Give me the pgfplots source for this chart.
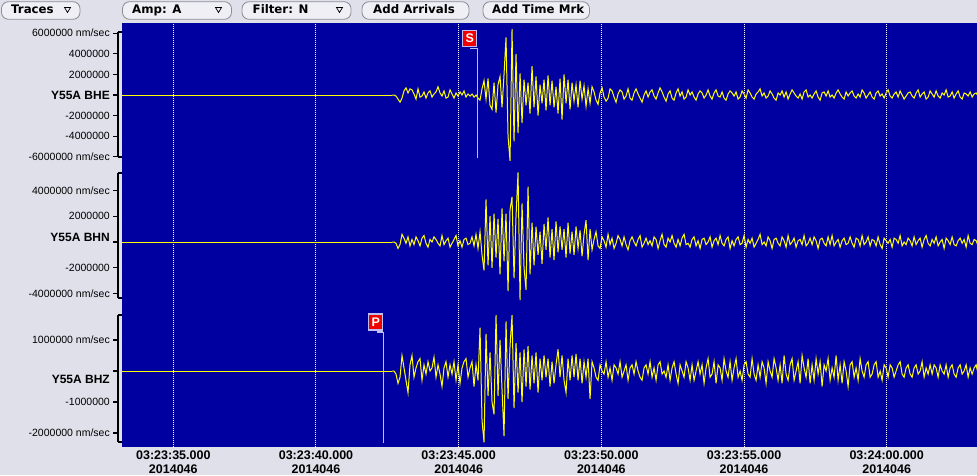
\documentclass[border=0pt]{standalone}
\usepackage{fontspec}
\setmainfont{Liberation Sans}
\newfontfamily\dejavu{DejaVu Sans}
\usepackage{pgfplots}
\usepackage{pgfplotstable}
\pgfplotsset{compat=1.18}
\definecolor{bg}{RGB}{224,224,235}
\definecolor{plotblue}{RGB}{0,0,160}
\definecolor{trace}{RGB}{255,255,0}
\definecolor{mk}{RGB}{190,190,240}
\definecolor{pick}{RGB}{240,0,0}
\definecolor{btnline}{RGB}{140,140,150}

% Y55A BHE, units of 100000 nm/sec, one sample every 0.0701 s from 42.664 s
\pgfplotstableread[row sep=\\]{
v\\
0\\ 0\\ -1\\ -4\\ -7\\ -3\\ 4\\ 7\\ 2\\ 6\\
5\\ 1\\ -4\\ 6\\ -2\\ -1\\ 3\\ -3\\ 2\\ 4\\
-2\\ 1\\ 3\\ 8\\ 2\\ -1\\ 4\\ -3\\ -2\\ 5\\
1\\ -3\\ 2\\ -1\\ 3\\ 0\\ 4\\ -2\\ 1\\ -1\\
1\\ -2\\ 0\\ -3\\ -5\\ 6\\ 14\\ -4\\ 16\\ -10\\
-14\\ 12\\ -17\\ 10\\ 18\\ -12\\ 20\\ 56\\ -40\\ -64\\
64\\ -45\\ 40\\ -37\\ 21\\ -27\\ 15\\ -10\\ 12\\ -18\\
28\\ -12\\ 18\\ -20\\ 10\\ -8\\ 15\\ -15\\ 19\\ -10\\
14\\ -12\\ 8\\ -18\\ 16\\ -24\\ 20\\ -8\\ 15\\ -14\\
12\\ -6\\ 10\\ -12\\ 14\\ -4\\ 9\\ -11\\ 6\\ -8\\
8\\ 3\\ -5\\ -9\\ 2\\ 7\\ -2\\ -6\\ -3\\ 6\\
4\\ -2\\ -7\\ 1\\ 5\\ 3\\ -4\\ -1\\ 6\\ -3\\
-5\\ 2\\ 6\\ 1\\ -3\\ -7\\ 0\\ 4\\ -2\\ 3\\
5\\ -1\\ -4\\ 2\\ 7\\ 3\\ -2\\ -6\\ 1\\ 4\\
-3\\ -5\\ 2\\ 6\\ -1\\ 3\\ -4\\ -2\\ 5\\ 0\\
3\\ -2\\ -5\\ 1\\ 4\\ 2\\ -3\\ 0\\ 5\\ -1\\
-4\\ 2\\ 5\\ -1\\ -2\\ 3\\ -3\\ -5\\ 1\\ 4\\
2\\ -1\\ 3\\ -4\\ -2\\ 4\\ 1\\ -3\\ 5\\ 2\\
-2\\ -4\\ 1\\ 3\\ 6\\ -1\\ 2\\ -3\\ -1\\ 4\\
1\\ -3\\ -5\\ 2\\ 0\\ 4\\ -2\\ 3\\ -4\\ 1\\
5\\ 2\\ -1\\ -3\\ 1\\ -4\\ 3\\ 5\\ -2\\ 0\\
-3\\ 1\\ 4\\ -2\\ -5\\ 2\\ 3\\ -1\\ 4\\ -2\\
0\\ -3\\ 2\\ 5\\ 1\\ -2\\ -4\\ 3\\ -1\\ 2\\
4\\ -1\\ -3\\ 1\\ -2\\ 5\\ 2\\ -3\\ 0\\ 3\\
-2\\ -4\\ 2\\ 4\\ -1\\ 1\\ -3\\ 2\\ 5\\ -1\\
-3\\ 1\\ 3\\ -2\\ 4\\ 0\\ -4\\ -1\\ 2\\ 3\\
-1\\ -3\\ 2\\ 5\\ -2\\ 1\\ 3\\ -4\\ -2\\ 4\\
1\\ -2\\ 4\\ -1\\ -3\\ 2\\ 0\\ 5\\ -2\\ -1\\
3\\ -3\\ 1\\ 4\\ -2\\ -4\\ 2\\ 1\\ -1\\ 3\\
-2\\ 1\\ 2\\ -1\\
}\traceE

% Y55A BHN
\pgfplotstableread[row sep=\\]{
v\\
0\\ 0\\ -1\\ -5\\ -2\\ 6\\ 3\\ -1\\ 4\\ -3\\
2\\ -2\\ 4\\ 1\\ -3\\ 3\\ 5\\ -1\\ -4\\ 2\\
0\\ 4\\ 2\\ -1\\ -3\\ 5\\ -2\\ 1\\ 3\\ -4\\
-1\\ 2\\ 5\\ -3\\ 1\\ -4\\ 2\\ 3\\ -2\\ -1\\
4\\ -3\\ 6\\ -5\\ 8\\ -10\\ -22\\ 33\\ -18\\ 20\\
-20\\ 22\\ -12\\ 18\\ -25\\ 26\\ -15\\ 22\\ -38\\ 25\\
35\\ -28\\ 20\\ 54\\ -45\\ 30\\ -20\\ -37\\ 43\\ -25\\
15\\ -18\\ 12\\ -10\\ 8\\ -17\\ 14\\ -6\\ 19\\ -12\\
10\\ -14\\ 16\\ -8\\ 12\\ -6\\ 10\\ -12\\ 15\\ -9\\
8\\ -10\\ 12\\ -5\\ 9\\ -11\\ 6\\ 17\\ -14\\ 10\\
-6\\ 2\\ 8\\ -3\\ -5\\ 4\\ 1\\ -4\\ 6\\ -2\\
3\\ -5\\ -1\\ 5\\ 2\\ -3\\ 4\\ -2\\ -6\\ 1\\
4\\ 0\\ -3\\ 2\\ 5\\ -4\\ -1\\ 3\\ -2\\ 1\\
-3\\ 4\\ 2\\ -5\\ 1\\ 6\\ -2\\ -4\\ 3\\ 0\\
5\\ -1\\ -4\\ 2\\ -3\\ 3\\ 6\\ -2\\ -1\\ -4\\
2\\ 4\\ -3\\ 1\\ -5\\ 2\\ 3\\ -2\\ 0\\ 4\\
-4\\ 1\\ 3\\ -2\\ 5\\ -1\\ -3\\ 2\\ 4\\ -5\\
1\\ -3\\ 2\\ 4\\ -2\\ -1\\ 5\\ -4\\ 2\\ -1\\
3\\ -4\\ -1\\ 2\\ 6\\ -2\\ 0\\ -3\\ 4\\ 1\\
-5\\ 2\\ 3\\ -1\\ -3\\ 4\\ 1\\ -4\\ 5\\ -2\\
0\\ 3\\ -4\\ 1\\ 2\\ -2\\ 5\\ -3\\ -1\\ 3\\
-2\\ 4\\ 1\\ -5\\ 2\\ 3\\ -1\\ -3\\ 4\\ -2\\
5\\ -3\\ 0\\ 2\\ -4\\ 1\\ 3\\ -2\\ -1\\ 4\\
-1\\ -4\\ 3\\ 2\\ -3\\ 5\\ -2\\ 0\\ 4\\ -3\\
2\\ 1\\ -3\\ 4\\ -2\\ -5\\ 3\\ 1\\ -1\\ 2\\
-4\\ 3\\ 2\\ -1\\ 5\\ -3\\ 0\\ -2\\ 3\\ 1\\
-3\\ 4\\ -2\\ 1\\ 3\\ -4\\ 2\\ 5\\ -1\\ -3\\
2\\ -1\\ 4\\ -3\\ 0\\ 2\\ -5\\ 3\\ 1\\ -2\\
4\\ -2\\ -3\\ 1\\ 3\\ -1\\ 2\\ -4\\ 5\\ -1\\
-2\\ 2\\ 1\\ -3\\
}\traceN

% Y55A BHZ
\pgfplotstableread[row sep=\\]{
v\\
0\\ 0\\ -1\\ -4\\ -2\\ 5\\ 1\\ -3\\ -7\\ 2\\
5\\ -2\\ 1\\ 3\\ 4\\ -3\\ 2\\ -1\\ 3\\ 0\\
1\\ 4.5\\ -2\\ 2\\ -1\\ -5\\ 1\\ 3\\ -2\\ 2\\
-1\\ 3\\ -3\\ 2\\ -4\\ 1\\ 3\\ 4\\ -2\\ 1\\
3\\ -5\\ 2\\ -3\\ 14\\ -16\\ -23\\ 12\\ -8\\ 6\\
-10\\ -14\\ 18\\ -8\\ 10\\ -6\\ -21\\ 16\\ -9\\ 8\\
18\\ -12\\ 9\\ -7\\ 6\\ -10\\ 7\\ -5\\ 8\\ -6\\
5\\ -4\\ 6\\ -7\\ 4\\ -3\\ 5\\ -2\\ 4\\ -5\\
3\\ -4\\ 2\\ 7\\ -2\\ 5\\ -3\\ -7\\ 4\\ -3\\
5\\ -2\\ 5.5\\ -3\\ 4\\ -4\\ 3\\ -2\\ 4\\ -9\\
3\\ 1\\ -2\\ -3\\ 2\\ 0\\ -1\\ 3\\ -2\\ 1\\
-3\\ 2\\ 1\\ -1\\ 3\\ -2\\ 0\\ 2\\ -3\\ 1\\
2\\ -1\\ 3\\ 0\\ -2\\ -3\\ 1\\ 2\\ -1\\ 3\\
-2\\ 1\\ -3\\ 2\\ 3\\ -1\\ 0\\ -2\\ 2\\ -3\\
1\\ 3\\ -1\\ -4\\ 2\\ 0\\ -2\\ 3\\ 1\\ -3\\
2\\ -3\\ 0\\ 3\\ -1\\ 2\\ -4\\ 1\\ 4\\ -2\\
-1\\ 3\\ -4\\ 2\\ 1\\ -3\\ 4\\ 0\\ -2\\ 3\\
-3\\ 1\\ 4\\ -2\\ 0\\ -3\\ 2\\ 3\\ -1\\ -2\\
4\\ -1\\ -3\\ 2\\ -2\\ 3\\ 1\\ -4\\ 3\\ 0\\
-2\\ 4\\ 1\\ -3\\ 2\\ -4\\ 5\\ -1\\ -3\\ 2\\
4\\ -3\\ 0\\ 3\\ -4\\ 5\\ 1\\ -2\\ 4\\ -4\\
2\\ -3\\ 4\\ -1\\ 3\\ -5\\ 2\\ 0\\ 4\\ -3\\
1\\ -2\\ 5\\ -3\\ 2\\ -4\\ 3\\ 0\\ -5\\ 2\\
3\\ -2\\ 1\\ -3\\ 4\\ 0\\ -2\\ 2\\ 3\\ -2\\
-1\\ 2\\ 3\\ -2\\ 0\\ -3\\ 2\\ 1\\ -2\\ 2\\
1\\ -2\\ 0\\ 2\\ 3\\ -1\\ -2\\ 1\\ 2\\ -1\\
-2\\ 1\\ 2\\ -1\\ 0\\ 3\\ -2\\ 1\\ -1\\ 2\\
-1\\ 2\\ 1\\ -2\\ 2\\ 0\\ -1\\ 2\\ -2\\ 1\\
2\\ -1\\ -2\\ 1\\ 2\\ -1\\ 0\\ 2\\ -2\\ 1\\
-1\\ 1\\ 2\\ -1\\
}\traceZ

\pgfplotsset{
  tr/.style={
    scale only axis, width=859pt, xmin=33.062, xmax=63.164,
    anchor=south west,
    axis x line=none, axis y line*=left, clip=false,
    y axis line style={line width=1.5pt, black},
    ytick align=outside, major tick length=5pt,
    ytick style={line width=1.2pt, black},
    yticklabel style={font=\fontsize{10.5}{12}\selectfont, inner sep=0pt, xshift=-3pt, text=black},
  },
  sig/.style={trace, line width=1pt, sharp plot},
}
\tikzset{
  pickbox/.style={fill=pick, draw=mk, line width=1.2pt, text=white,
    font=\bfseries\fontsize{12.5}{12.5}\selectfont, minimum width=14pt,
    minimum height=16pt, inner sep=0pt},
  btn/.style={draw=btnline, fill=bg!50!white, line width=0.8pt, rounded corners=7pt},
  btxt/.style={anchor=base west, inner sep=0pt, font=\dejavu\bfseries\fontsize{11.8}{12}\selectfont},
  tri/.style={line width=0.7pt, black, line join=miter},
  brk/.style={line width=1.5pt, black},
}
\newcommand{\stn}[1]{\textbf{\fontsize{12}{12}\selectfont #1}}

\begin{document}
\begin{tikzpicture}
\fill[bg] (0,0) rectangle (977pt,475pt);

% toolbar
\draw[btn] (1.5pt,455.7pt) rectangle (80pt,473.3pt);
\node[btxt] at (11pt,461pt) {Traces};
\draw[tri] (64.5pt,467.5pt) -- (70.5pt,467.5pt) -- (67.5pt,462.5pt) -- cycle;
\draw[btn] (122.5pt,455.7pt) rectangle (231.5pt,473.3pt);
\node[btxt] at (132pt,461pt) {Amp: A};
\draw[tri] (215.5pt,467.5pt) -- (221.5pt,467.5pt) -- (218.5pt,462.5pt) -- cycle;
\draw[btn] (242pt,455.7pt) rectangle (351pt,473.3pt);
\node[btxt] at (252.5pt,461pt) {Filter: N};
\draw[tri] (336.5pt,467.5pt) -- (342.5pt,467.5pt) -- (339.5pt,462.5pt) -- cycle;
\draw[btn] (362pt,455.7pt) rectangle (469pt,473.3pt);
\node[btxt] at (373pt,461pt) {Add Arrivals};
\draw[btn] (483pt,455.7pt) rectangle (589.5pt,473.3pt);
\node[btxt] at (492pt,461pt) {Add Time Mrk};

% plot area with time axis
\begin{axis}[at={(122pt,28pt)}, anchor=south west, scale only axis,
  width=855pt, height=424pt, xmin=33.202, xmax=63.164, ymin=0, ymax=1,
  axis line style={draw=none}, axis background/.style={fill=plotblue},
  xtick={35,40,45,50,55,60},
  xticklabels={{03:23:35.000\\2014046},{03:23:40.000\\2014046},{03:23:45.000\\2014046},
               {03:23:50.000\\2014046},{03:23:55.000\\2014046},{03:24:00.000\\2014046}},
  ytick=\empty, major tick length=0pt, tick style={draw=none},
  xmajorgrids, grid style={white, line width=1pt, dash pattern=on 1pt off 1pt},
  xticklabel style={inner sep=0pt, yshift=-4pt, align=center,
    font=\bfseries\fontsize{12.5}{13.3}\selectfont}]
\end{axis}

% BHE
\begin{axis}[tr, at={(118pt,318pt)}, height=125pt, ymin=-60.2, ymax=61.2,
  ytick={-60,-40,-20,0,20,40,60},
  yticklabels={-6000000 nm/sec,-4000000,-2000000,\stn{Y55A BHE},2000000,4000000,6000000 nm/sec}]
\draw[brk] (rel axis cs:0,1) -- ++(3.5pt,0pt);
\draw[brk] (rel axis cs:0,0) -- ++(3.5pt,0pt);
\addplot[sig] coordinates {(33.202,0) (42.664,0)};
\addplot[sig] table[x expr=42.664+0.0701*\coordindex, y=v] {\traceE};
\addplot[mk, line width=1.2pt] coordinates {(45.397,45.3) (45.653,45.3)};
\addplot[mk, line width=1.2pt] coordinates {(45.653,-61.2) (45.653,45.3)}
  node[pos=1, pickbox, anchor=south east, yshift=1.5pt] {S};
\end{axis}

% BHN
\begin{axis}[tr, at={(118pt,177pt)}, height=125pt, ymin=-43.4, ymax=53.5,
  ytick={-40,-20,0,20,40},
  yticklabels={-4000000 nm/sec,-2000000,\raisebox{5pt}[\height][\depth]{\stn{Y55A BHN}},2000000,4000000 nm/sec}]
\draw[brk] (rel axis cs:0,1) -- ++(3.5pt,0pt);
\draw[brk] (rel axis cs:0,0) -- ++(3.5pt,0pt);
\addplot[sig] coordinates {(33.202,0) (42.664,0)};
\addplot[sig] table[x expr=42.664+0.0701*\coordindex, y=v] {\traceN};
\end{axis}

% BHZ
\begin{axis}[tr, at={(118pt,33pt)}, height=127pt, ymin=-22.9, ymax=18.06,
  ytick={-20,-10,0,10},
  yticklabels={-2000000 nm/sec,-1000000,\raisebox{-8pt}[\height][\depth]{\stn{Y55A BHZ}},1000000 nm/sec}]
\draw[brk] (rel axis cs:0,1) -- ++(3.5pt,0pt);
\draw[brk] (rel axis cs:0,0) -- ++(3.5pt,0pt);
\addplot[sig] coordinates {(33.202,0) (42.664,0)};
\addplot[sig] table[x expr=42.664+0.0701*\coordindex, y=v] {\traceZ};
\addplot[mk, line width=1.2pt] coordinates {(42.128,12.58) (42.359,12.58)};
\addplot[mk, line width=1.2pt] coordinates {(42.359,-23.13) (42.359,12.58)}
  node[pos=1, pickbox, anchor=south east, yshift=1.3pt] {P};
\end{axis}

\pgfresetboundingbox
\path (0,0) rectangle (977pt,475pt);
\end{tikzpicture}
\end{document}
